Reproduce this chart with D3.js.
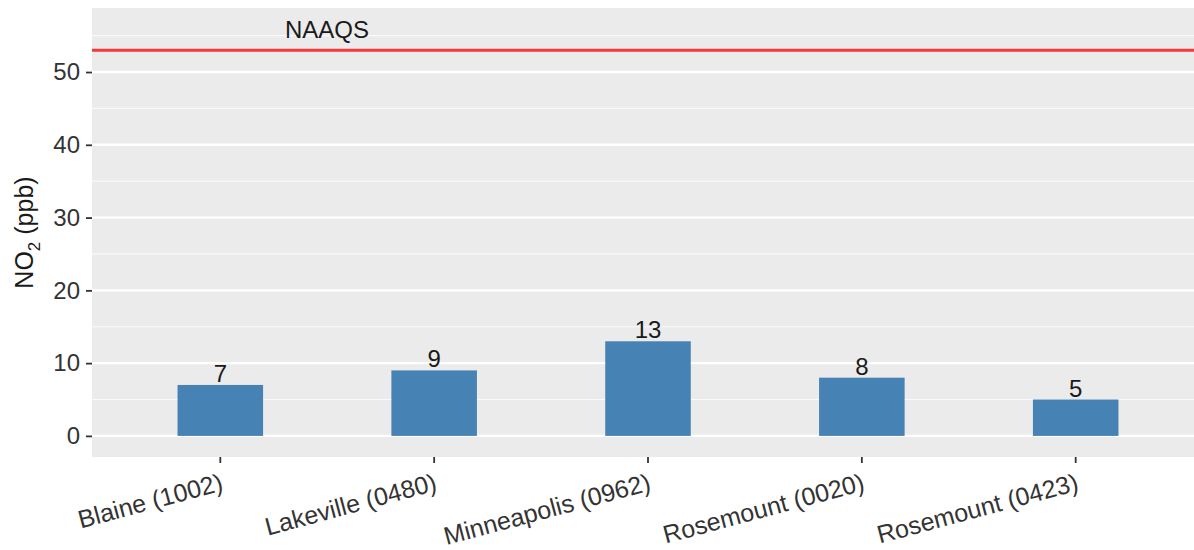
<!DOCTYPE html>
<html>
<head>
<meta charset="utf-8">
<script src="https://cdn.jsdelivr.net/npm/d3@7"></script>
<style>
  html, body { margin: 0; padding: 0; background: #fff; }
  svg { display: block; font-family: "Liberation Sans", Arial, sans-serif; }
</style>
</head>
<body>
<svg id="chart" width="1194" height="550"></svg>
<script>
// Annual NO2 concentrations by monitoring site
const sites = ["Blaine (1002)", "Lakeville (0480)", "Minneapolis (0962)", "Rosemount (0020)", "Rosemount (0423)"];
const no2Values = [7, 9, 13, 8, 5];
const naaqsLevel = 53;
const naaqsLabel = "NAAQS";
const yTicks = [0, 10, 20, 30, 40, 50];
const yMinorTicks = [5, 15, 25, 35, 45, 55];

const svg = d3.select("#chart");
const panel = { left: 92, top: 8, right: 1204, bottom: 457 };

const x = d3.scaleBand()
  .domain(sites)
  .range([panel.left, panel.right])
  .paddingInner(0.6)
  .paddingOuter(0.4);

const y = d3.scaleLinear()
  .domain([-2.9, 58.8])
  .range([panel.bottom, panel.top]);

// panel background
svg.append("rect")
  .attr("x", panel.left).attr("y", panel.top)
  .attr("width", panel.right - panel.left)
  .attr("height", panel.bottom - panel.top)
  .attr("fill", "#ebebeb");

// minor gridlines
svg.append("g").selectAll("line").data(yMinorTicks).join("line")
  .attr("x1", panel.left).attr("x2", panel.right)
  .attr("y1", d => y(d)).attr("y2", d => y(d))
  .attr("stroke", "#fafafa").attr("stroke-width", 1.2);

// major gridlines
svg.append("g").selectAll("line").data(yTicks).join("line")
  .attr("x1", panel.left).attr("x2", panel.right)
  .attr("y1", d => y(d)).attr("y2", d => y(d))
  .attr("stroke", "#ffffff").attr("stroke-width", 2.4);

// bars
svg.append("g").selectAll("rect").data(sites).join("rect")
  .attr("x", d => x(d))
  .attr("width", x.bandwidth())
  .attr("y", (d, i) => y(no2Values[i]))
  .attr("height", (d, i) => y(0) - y(no2Values[i]))
  .attr("fill", "#4682b4");

// value labels
svg.append("g").selectAll("text").data(sites).join("text")
  .attr("x", d => x(d) + x.bandwidth() / 2)
  .attr("y", (d, i) => y(no2Values[i]) - 3)
  .attr("text-anchor", "middle")
  .attr("font-size", 24)
  .attr("fill", "#1a1a1a")
  .text((d, i) => no2Values[i]);

// standard line
svg.append("line")
  .attr("x1", panel.left).attr("x2", panel.right)
  .attr("y1", y(naaqsLevel)).attr("y2", y(naaqsLevel))
  .attr("stroke", "#f23a3a").attr("stroke-width", 3);

svg.append("text")
  .attr("x", 327)
  .attr("y", y(naaqsLevel) - 12)
  .attr("text-anchor", "middle")
  .attr("font-size", 24)
  .attr("fill", "#1a1a1a")
  .text(naaqsLabel);

// y axis
const yAxis = svg.append("g")
  .attr("transform", `translate(${panel.left},0)`)
  .call(d3.axisLeft(y).tickValues(yTicks).tickSize(6).tickPadding(6));
yAxis.select(".domain").remove();
yAxis.selectAll(".tick line").attr("stroke", "#333").attr("stroke-width", 1.8);
yAxis.selectAll(".tick text")
  .attr("font-size", 24)
  .attr("fill", "#333")
  .attr("font-family", "Liberation Sans, Arial, sans-serif");

// x axis
const xAxis = svg.append("g")
  .attr("transform", `translate(0,${panel.bottom})`)
  .call(d3.axisBottom(x).tickSize(6).tickFormat(""));
xAxis.select(".domain").remove();
xAxis.selectAll(".tick line").attr("stroke", "#333").attr("stroke-width", 1.8);

svg.append("g").selectAll("text").data(sites).join("text")
  .attr("transform", d => `translate(${x(d) + x.bandwidth() / 2 + 4},${panel.bottom + 33}) rotate(-15)`)
  .attr("text-anchor", "end")
  .attr("font-size", 25)
  .attr("fill", "#333")
  .text(d => d);

// y axis title
const yTitle = svg.append("text")
  .attr("transform", `translate(33,${(panel.top + panel.bottom) / 2}) rotate(-90)`)
  .attr("text-anchor", "middle")
  .attr("font-size", 25)
  .attr("fill", "#1a1a1a");
yTitle.append("tspan").text("NO");
yTitle.append("tspan").attr("font-size", 17).attr("dy", 7).text("2");
yTitle.append("tspan").attr("dy", -7).text(" (ppb)");
</script>
</body>
</html>
